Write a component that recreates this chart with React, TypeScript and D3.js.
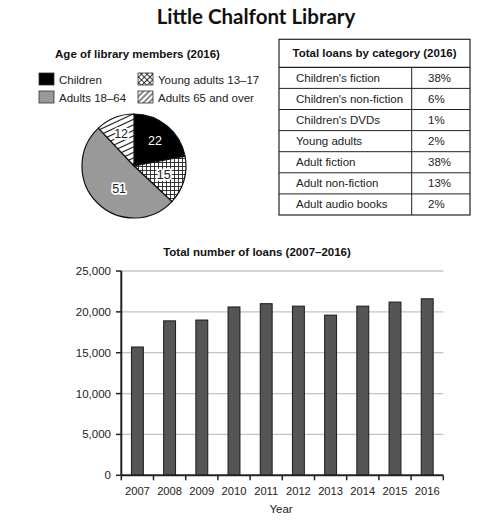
import React from "react";
import * as d3 from "d3";

const title = "Little Chalfont Library";

const pieTitle = "Age of library members (2016)";
const ageGroups = ["Children", "Young adults 13–17", "Adults 18–64", "Adults 65 and over"];
const ageValues = [22, 15, 51, 12];

const tableTitle = "Total loans by category (2016)";
const loanCategories = [
  "Children's fiction",
  "Children's non-fiction",
  "Children's DVDs",
  "Young adults",
  "Adult fiction",
  "Adult non-fiction",
  "Adult audio books",
];
const loanShares = ["38%", "6%", "1%", "2%", "38%", "13%", "2%"];

const barTitle = "Total number of loans (2007–2016)";
const years = ["2007", "2008", "2009", "2010", "2011", "2012", "2013", "2014", "2015", "2016"];
const loans = [15700, 18900, 19000, 20600, 21000, 20700, 19600, 20700, 21200, 21600];
const yTicks = [0, 5000, 10000, 15000, 20000, 25000];
const xLabel = "Year";

const W = 504;
const H = 525;
const FONT = "'Liberation Sans', Arial, sans-serif";
const FS = 11.5;

export default function App() {
  // Pie
  const cx = 134, cy = 166, R = 52;
  const fills = ["#000000", "url(#cross)", "#999999", "url(#diag)"];
  const legendFills = ["#000000", "url(#crossL)", "#999999", "url(#diagL)"];
  const pie = d3.pie<number>().sort(null).startAngle(0).endAngle(2 * Math.PI)(ageValues);
  const arc = d3.arc<d3.PieArcDatum<number>>().innerRadius(0).outerRadius(R);
  const labelR = [33, 31, 27, 35];
  const labelShift = [0, 0, 0.2, 0];

  // Table
  const tX0 = 279, tX1 = 470, tDiv = 411.7, tTop = 39.3, tHead = 67.3, tBot = 215;
  const rowScale = d3.scaleBand<number>().domain(d3.range(loanCategories.length)).range([tHead, tBot]);

  // Bar chart
  const x = d3.scaleBand<string>().domain(years).range([121.3, 443.3]).padding(0);
  const y = d3.scaleLinear().domain([0, 25000]).range([475.3, 271]);
  const barW = x.bandwidth() * 0.37;
  const fmt = d3.format(",");

  const legendPos = [
    { x: 39, y: 73 },
    { x: 138, y: 73 },
    { x: 39, y: 91 },
    { x: 138, y: 91 },
  ];

  return (
    <svg width={W} height={H} style={{ position: "absolute", left: 0, top: 0, background: "#fff" }} fontFamily={FONT}>
      <defs>
        <pattern id="cross" width="4" height="4" patternUnits="userSpaceOnUse">
          <rect width="4" height="4" fill="#fff" />
          <path d="M0,0.5H4M0.5,0V4" stroke="#222" strokeWidth="0.9" />
        </pattern>
        <pattern id="diag" width="5" height="5" patternUnits="userSpaceOnUse" patternTransform="rotate(-25)">
          <rect width="5" height="5" fill="#fff" />
          <path d="M0,2.5H5" stroke="#111" strokeWidth="1.1" />
        </pattern>
        <pattern id="crossL" width="4" height="4" patternUnits="userSpaceOnUse" patternTransform="rotate(45)">
          <rect width="4" height="4" fill="#fff" />
          <path d="M0,0.5H4M0.5,0V4" stroke="#222" strokeWidth="0.9" />
        </pattern>
        <pattern id="diagL" width="4" height="4" patternUnits="userSpaceOnUse" patternTransform="rotate(-45)">
          <rect width="4" height="4" fill="#fff" />
          <path d="M0,2H4" stroke="#111" strokeWidth="1" />
        </pattern>
      </defs>

      <text x={256} y={24} textAnchor="middle" fontFamily="Lato, 'Open Sans', sans-serif" fontWeight="bold" fontSize={20.5} fill="#111">
        {title}
      </text>

      {/* Pie section */}
      <text x={137.5} y={58} textAnchor="middle" fontWeight="bold" fontSize={FS} fill="#111">
        {pieTitle}
      </text>
      {ageGroups.map((g, i) => (
        <g key={g}>
          <rect x={legendPos[i].x} y={legendPos[i].y} width={15} height={12} fill={legendFills[i]} stroke="#333" strokeWidth={0.8} />
          <text x={legendPos[i].x + 20} y={legendPos[i].y + 10.5} fontSize={FS} fill="#222">
            {g}
          </text>
        </g>
      ))}
      <g transform={`translate(${cx},${cy})`}>
        {pie.map((d, i) => (
          <path key={i} d={arc(d) || ""} fill={fills[i]} stroke="#111" strokeWidth={1.2} />
        ))}
        {pie.map((d, i) => {
          const a = (d.startAngle + d.endAngle) / 2 - labelShift[i];
          const lx = Math.sin(a) * labelR[i];
          const ly = -Math.cos(a) * labelR[i];
          const isWhite = i === 0;
          return (
            <text
              key={"l" + i}
              x={lx}
              y={ly}
              dy="0.35em"
              textAnchor="middle"
              fontSize={12.5}
              fill={isWhite ? "#fff" : "#222"}
              stroke={isWhite ? "none" : "#fff"}
              strokeWidth={isWhite ? 0 : 3.5}
              strokeLinejoin="round"
              style={{ paintOrder: "stroke" }}
            >
              {d.data}
            </text>
          );
        })}
      </g>

      {/* Table */}
      <rect x={tX0} y={tTop} width={tX1 - tX0} height={tBot - tTop} fill="#fff" stroke="#222" strokeWidth={1.2} />
      <text x={(tX0 + tX1) / 2} y={(tTop + tHead) / 2} dy="0.35em" textAnchor="middle" fontWeight="bold" fontSize={FS} fill="#111">
        {tableTitle}
      </text>
      <line x1={tX0} x2={tX1} y1={tHead} y2={tHead} stroke="#222" strokeWidth={1.2} />
      <line x1={tDiv} x2={tDiv} y1={tHead} y2={tBot} stroke="#222" strokeWidth={1} />
      {loanCategories.map((c, i) => {
        const ry = rowScale(i)!;
        return (
          <g key={c}>
            {i > 0 && <line x1={tX0} x2={tX1} y1={ry} y2={ry} stroke="#222" strokeWidth={1} />}
            <text x={296} y={ry + rowScale.bandwidth() / 2} dy="0.35em" fontSize={FS} fill="#222">
              {c}
            </text>
            <text x={428} y={ry + rowScale.bandwidth() / 2} dy="0.35em" fontSize={FS} fill="#222">
              {loanShares[i]}
            </text>
          </g>
        );
      })}

      {/* Bar chart */}
      <text x={257} y={256} textAnchor="middle" fontWeight="bold" fontSize={FS} fill="#111">
        {barTitle}
      </text>
      {yTicks.map((t) => (
        <g key={t}>
          {t > 0 && <line x1={121.3} x2={443.3} y1={y(t)} y2={y(t)} stroke="#c4c4c4" strokeWidth={1.3} />}
          <line x1={116} x2={121.3} y1={y(t)} y2={y(t)} stroke="#222" strokeWidth={1.5} />
          <text x={111} y={y(t)} dy="0.35em" textAnchor="end" fontSize={FS} fill="#222">
            {fmt(t)}
          </text>
        </g>
      ))}
      {years.map((yr, i) => (
        <rect
          key={yr}
          x={x(yr)! + (x.bandwidth() - barW) / 2}
          y={y(loans[i])}
          width={barW}
          height={y(0) - y(loans[i])}
          fill="#555555"
          stroke="#1a1a1a"
          strokeWidth={1}
        />
      ))}
      <line x1={121.3} x2={121.3} y1={y(25000)} y2={y(0)} stroke="#222" strokeWidth={2} />
      <line x1={121.3} x2={443.3} y1={y(0)} y2={y(0)} stroke="#222" strokeWidth={2} />
      {[...years.map((yr) => x(yr)!), 443.3].map((tx, i) => (
        <line key={"t" + i} x1={tx} x2={tx} y1={y(0)} y2={y(0) + 5} stroke="#222" strokeWidth={1.5} />
      ))}
      {years.map((yr) => (
        <text key={"x" + yr} x={x(yr)! + x.bandwidth() / 2} y={491} dy="0.35em" textAnchor="middle" fontSize={11.2} fill="#222">
          {yr}
        </text>
      ))}
      <text x={281} y={509} dy="0.35em" textAnchor="middle" fontSize={FS} fill="#222">
        {xLabel}
      </text>
    </svg>
  );
}
